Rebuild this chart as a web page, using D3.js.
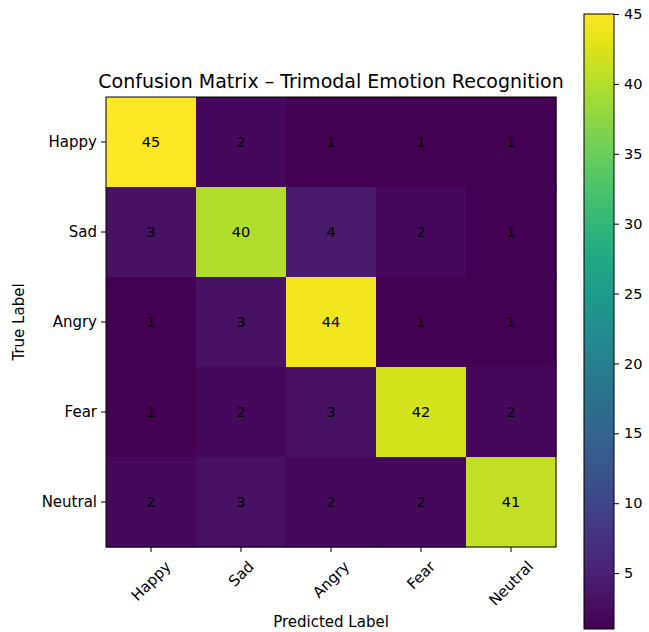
<!DOCTYPE html>
<html><head><meta charset="utf-8">
<script src="https://cdn.jsdelivr.net/npm/d3@7"></script>
<style>body{margin:0;background:#fff;} text{font-family:"DejaVu Sans",sans-serif;fill:#000;}</style>
</head><body>
<svg id="c" width="649" height="632"></svg>
<script>
const labels = ["Happy","Sad","Angry","Fear","Neutral"];
const matrix = [
  [45,2,1,1,1],
  [3,40,4,2,1],
  [1,3,44,1,1],
  [1,2,3,42,2],
  [2,3,2,2,41]
];
const cbTicks = [5,10,15,20,25,30,35,40,45];
const vmin = 1, vmax = 45;

const svg = d3.select("#c");
const L = 106, T = 97, S = 450;
const FS = 15;
const x = d3.scaleBand().domain(labels).range([L, L+S]);
const y = d3.scaleBand().domain(labels).range([T, T+S]);
const color = d3.scaleSequential(d3.interpolateViridis).domain([vmin, vmax]);

const cells = [];
matrix.forEach((row,i)=>row.forEach((v,j)=>cells.push({r:labels[i],c:labels[j],v})));
svg.selectAll("rect.cell").data(cells).join("rect").attr("class","cell")
  .attr("x",d=>x(d.c)).attr("y",d=>y(d.r))
  .attr("width",x.bandwidth()+0.5).attr("height",y.bandwidth()+0.5)
  .attr("fill",d=>color(d.v));
svg.selectAll("text.val").data(cells).join("text").attr("class","val")
  .attr("x",d=>x(d.c)+x.bandwidth()/2).attr("y",d=>y(d.r)+y.bandwidth()/2)
  .attr("text-anchor","middle").attr("dy","0.35em").attr("font-size",14.5)
  .text(d=>d.v);
svg.append("rect").attr("x",L).attr("y",T).attr("width",S).attr("height",S)
  .attr("fill","none").attr("stroke","#000").attr("stroke-width",1);

const xAxis = svg.append("g").attr("transform",`translate(0,${T+S})`)
  .call(d3.axisBottom(x).tickSize(5).tickPadding(3));
xAxis.select(".domain").remove();
xAxis.selectAll(".tick text").attr("font-size",FS).each(function(){
  const t = d3.select(this);
  t.attr("text-anchor","middle").attr("dy","0.35em").attr("y",0).attr("x",0);
  const w = this.getComputedTextLength();
  const H = (w + FS*1.17)/Math.SQRT2;
  t.attr("transform",`translate(0,${5 + 5.5 + H/2}) rotate(-45)`);
});
const yAxis = svg.append("g").attr("transform",`translate(${L},0)`)
  .call(d3.axisLeft(y).tickSize(5).tickPadding(4));
yAxis.select(".domain").remove();
yAxis.selectAll("text").attr("font-size",FS);

svg.append("text").attr("x",L+S/2).attr("y",88).attr("text-anchor","middle")
  .attr("font-size",19).text("Confusion Matrix – Trimodal Emotion Recognition");
svg.append("text").attr("x",L+S/2).attr("y",627).attr("text-anchor","middle")
  .attr("font-size",FS).text("Predicted Label");
svg.append("text").attr("transform",`translate(24,${T+S/2}) rotate(-90)`)
  .attr("text-anchor","middle").attr("font-size",FS).text("True Label");

// colorbar
const cbX = 584, cbW = 30, cbT = 14, cbB = 629;
const cy = d3.scaleLinear().domain([vmin, vmax]).range([cbB, cbT]);
const defs = svg.append("defs");
const grad = defs.append("linearGradient").attr("id","g").attr("x1",0).attr("y1",1).attr("x2",0).attr("y2",0);
d3.range(0,1.0001,0.05).forEach(t=>grad.append("stop").attr("offset",t).attr("stop-color",d3.interpolateViridis(t)));
svg.append("rect").attr("x",cbX).attr("y",cbT).attr("width",cbW).attr("height",cbB-cbT)
  .attr("fill","url(#g)").attr("stroke","#000").attr("stroke-width",1);
const cAxis = svg.append("g").attr("transform",`translate(${cbX+cbW},0)`)
  .call(d3.axisRight(cy).tickValues(cbTicks).tickSize(5).tickPadding(5));
cAxis.select(".domain").remove();
cAxis.selectAll("text").attr("font-size",14.5);
</script>
</body></html>
